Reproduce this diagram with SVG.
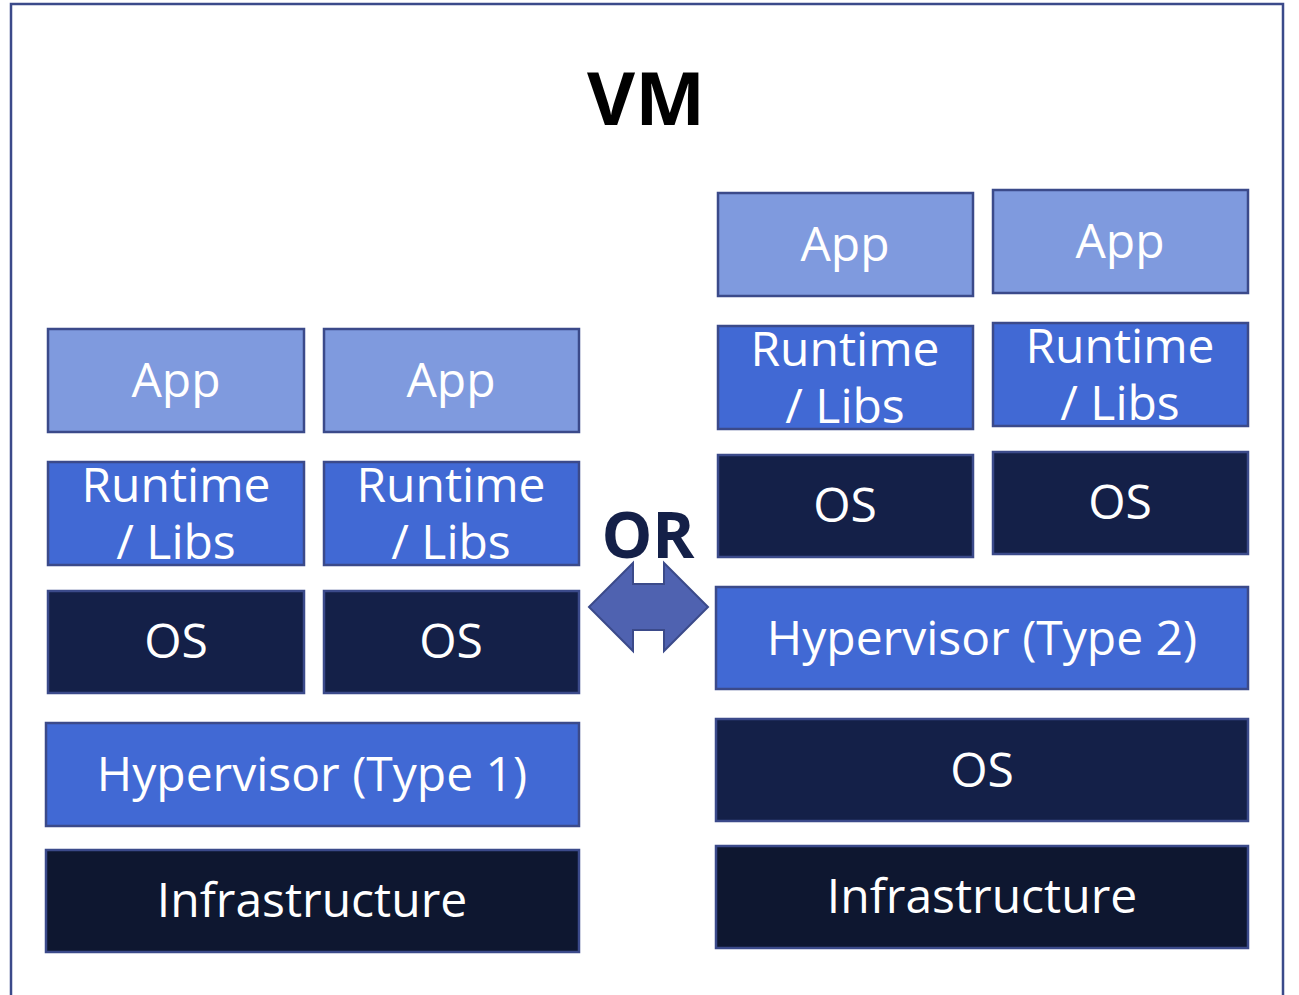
<svg xmlns="http://www.w3.org/2000/svg" width="1299" height="995" viewBox="0 0 1299 995">
<style>
.b{stroke:#3b4a8a;stroke-width:2.5}
.app{fill:#7f9ade}
.rt{fill:#4169d4}
.os{fill:#142048}
.inf{fill:#0e1730}
.t{font-family:"Open Sans","Noto Sans",sans-serif;font-size:48px;fill:#fff;text-anchor:middle}
</style>
<rect x="11" y="4" width="1272" height="1000" fill="#fff" stroke="#3b4a8a" stroke-width="2.5"/>
<text x="646" y="125" font-family="Open Sans, sans-serif" font-weight="bold" font-size="74" text-anchor="middle" fill="#000">VM</text>
<text x="648" y="558" font-family="Open Sans, sans-serif" font-weight="bold" font-size="64" text-anchor="middle" fill="#142048">OR</text>
<g id="connectors">
<polygon points="589,607 633,563 633,584 664,584 664,563 708,607 664,651 664,630 633,630 633,651" fill="#4f62b0" stroke="#3b4a8a" stroke-width="2"/>
</g>
<g id="l-app1"><rect class="b app" x="48" y="329" width="256" height="103"/><text class="t" x="176" y="397">App</text></g>
<g id="l-app2"><rect class="b app" x="324" y="329" width="255" height="103"/><text class="t" x="451" y="397">App</text></g>
<g id="l-rt1"><rect class="b rt" x="48" y="462" width="256" height="103"/><text class="t" x="176" y="502">Runtime</text><text class="t" x="176" y="559">/ Libs</text></g>
<g id="l-rt2"><rect class="b rt" x="324" y="462" width="255" height="103"/><text class="t" x="451" y="502">Runtime</text><text class="t" x="451" y="559">/ Libs</text></g>
<g id="l-os1"><rect class="b os" x="48" y="591" width="256" height="102"/><text class="t" x="176" y="658">OS</text></g>
<g id="l-os2"><rect class="b os" x="324" y="591" width="255" height="102"/><text class="t" x="451" y="658">OS</text></g>
<g id="l-hyp"><rect class="b rt" x="46" y="723" width="533" height="103"/><text class="t" x="312" y="791">Hypervisor (Type 1)</text></g>
<g id="l-inf"><rect class="b inf" x="46" y="850" width="533" height="102"/><text class="t" x="312" y="917">Infrastructure</text></g>
<g id="r-app1"><rect class="b app" x="718" y="193" width="255" height="103"/><text class="t" x="845" y="261">App</text></g>
<g id="r-app2"><rect class="b app" x="993" y="190" width="255" height="103"/><text class="t" x="1120" y="258">App</text></g>
<g id="r-rt1"><rect class="b rt" x="718" y="326" width="255" height="103"/><text class="t" x="845" y="366">Runtime</text><text class="t" x="845" y="423">/ Libs</text></g>
<g id="r-rt2"><rect class="b rt" x="993" y="323" width="255" height="103"/><text class="t" x="1120" y="363">Runtime</text><text class="t" x="1120" y="420">/ Libs</text></g>
<g id="r-os1"><rect class="b os" x="718" y="455" width="255" height="102"/><text class="t" x="845" y="522">OS</text></g>
<g id="r-os2"><rect class="b os" x="993" y="452" width="255" height="102"/><text class="t" x="1120" y="519">OS</text></g>
<g id="r-hyp"><rect class="b rt" x="716" y="587" width="532" height="102"/><text class="t" x="982" y="655">Hypervisor (Type 2)</text></g>
<g id="r-os"><rect class="b os" x="716" y="719" width="532" height="102"/><text class="t" x="982" y="787">OS</text></g>
<g id="r-inf"><rect class="b inf" x="716" y="846" width="532" height="102"/><text class="t" x="982" y="913">Infrastructure</text></g>
</svg>
